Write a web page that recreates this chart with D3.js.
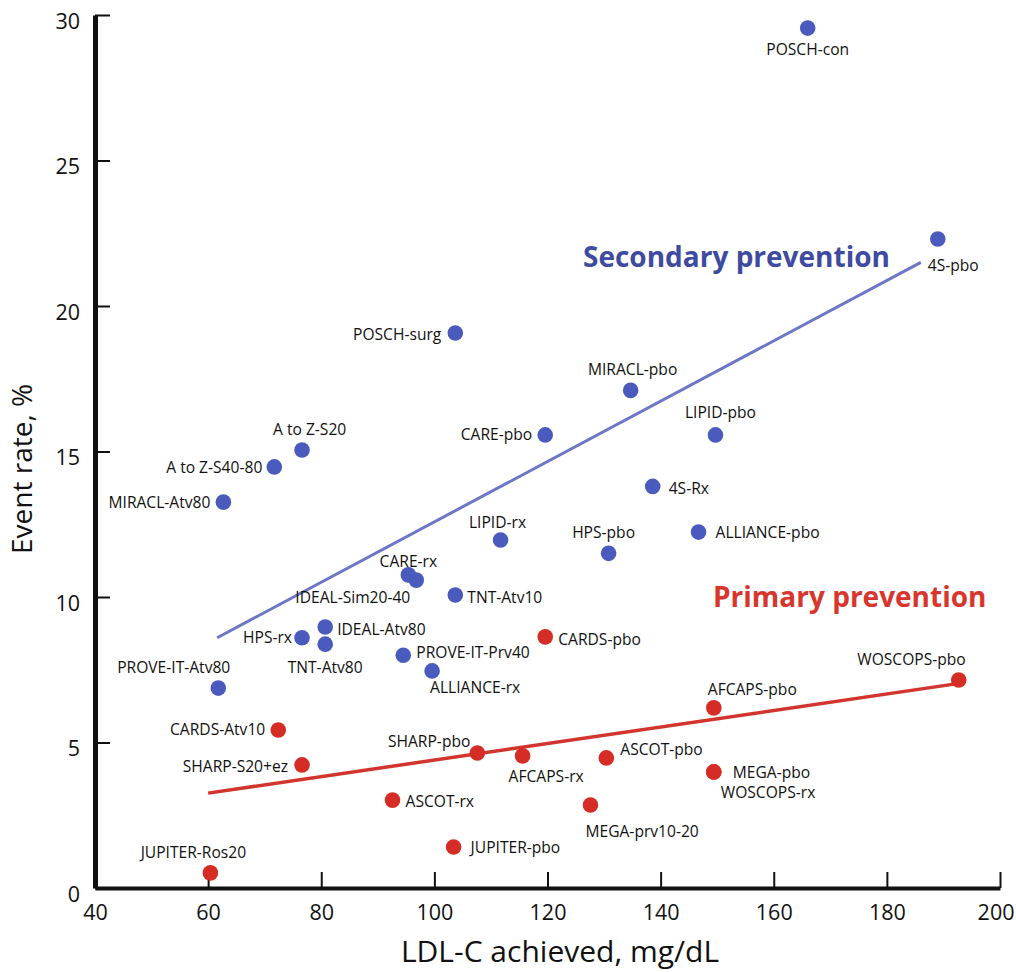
<!DOCTYPE html>
<html>
<head>
<meta charset="utf-8">
<script src="https://cdn.jsdelivr.net/npm/d3@7"></script>
<style>
  body { margin: 0; background: #fff; }
  svg { display: block; font-family: "Open Sans", "Noto Sans", sans-serif; }
</style>
</head>
<body>
<svg id="chart" width="1016" height="972"></svg>
<script>
// secondary prevention trials (blue)
const secondaryStudies = ["POSCH-con", "4S-pbo", "POSCH-surg", "MIRACL-pbo", "CARE-pbo", "LIPID-pbo", "4S-Rx",
    "ALLIANCE-pbo", "LIPID-rx", "HPS-pbo", "CARE-rx", "IDEAL-Sim20-40", "TNT-Atv10", "IDEAL-Atv80", "HPS-rx",
    "TNT-Atv80", "PROVE-IT-Prv40", "ALLIANCE-rx", "PROVE-IT-Atv80", "A to Z-S20", "A to Z-S40-80", "MIRACL-Atv80"];
const secondaryLdl = [166, 189, 103.7, 134.7, 119.6, 149.7, 138.6, 146.7, 111.7, 130.8, 95.4, 96.8, 103.7, 80.7, 76.6,
    80.7, 94.5, 99.6, 61.8, 76.6, 71.7, 62.7];
const secondaryRate = [29.55, 22.3, 19.07, 17.1, 15.57, 15.57, 13.8, 12.23, 11.96, 11.5, 10.76, 10.58, 10.07, 8.97, 8.6,
    8.38, 8.0, 7.46, 6.87, 15.05, 14.47, 13.26];

// primary prevention trials (red)
const primaryStudies = ["CARDS-pbo", "WOSCOPS-pbo", "AFCAPS-pbo", "CARDS-Atv10", "SHARP-pbo", "AFCAPS-rx", "ASCOT-pbo",
    "SHARP-S20+ez", "MEGA-pbo", "WOSCOPS-rx", "ASCOT-rx", "MEGA-prv10-20", "JUPITER-pbo", "JUPITER-Ros20"];
const primaryLdl = [119.6, 192.7, 149.4, 72.4, 107.6, 115.6, 130.4, 76.6, 149.4, 149.4, 92.6, 127.6, 103.4, 60.4];
const primaryRate = [8.63, 7.15, 6.19, 5.43, 4.64, 4.54, 4.47, 4.23, 3.99, 3.99, 3.02, 2.85, 1.41, 0.52];

// fitted trend lines (end points)
const secondaryTrendLdl = [61.6, 186];
const secondaryTrendRate = [8.6, 21.5];
const primaryTrendLdl = [60, 193.1];
const primaryTrendRate = [3.26, 7.04];

const xTicks = [40, 60, 80, 100, 120, 140, 160, 180, 200];
const yTicks = [0, 5, 10, 15, 20, 25, 30];

// label placement: [text-anchor, dx, dy] relative to the dot
const labelPlace = {
    "POSCH-con": ["middle", 0, 27], "4S-pbo": ["start", -10, 32], "POSCH-surg": ["end", -14, 7],
    "MIRACL-pbo": ["middle", 2, -15], "CARE-pbo": ["end", -13, 5], "LIPID-pbo": ["middle", 5, -17],
    "4S-Rx": ["start", 16, 8], "ALLIANCE-pbo": ["start", 17, 6], "LIPID-rx": ["middle", -3, -12],
    "HPS-pbo": ["middle", -5, -15], "CARE-rx": ["middle", 0, -8], "IDEAL-Sim20-40": ["end", -6, 23],
    "TNT-Atv10": ["start", 12, 8], "IDEAL-Atv80": ["start", 12, 8], "HPS-rx": ["end", -10, 5],
    "TNT-Atv80": ["middle", 0, 29], "PROVE-IT-Prv40": ["start", 13, 3], "ALLIANCE-rx": ["start", -2, 22],
    "PROVE-IT-Atv80": ["end", 12, -15], "A to Z-S20": ["start", -29, -15], "A to Z-S40-80": ["end", -12, 6],
    "MIRACL-Atv80": ["end", -13, 6],
    "CARDS-pbo": ["start", 13, 8], "WOSCOPS-pbo": ["end", 7, -15], "AFCAPS-pbo": ["start", -6, -13],
    "CARDS-Atv10": ["end", -13, 5], "SHARP-pbo": ["end", -7, -6], "AFCAPS-rx": ["start", -14, 26],
    "ASCOT-pbo": ["start", 14, -3], "SHARP-S20+ez": ["end", -14, 7], "MEGA-pbo": ["start", 19, 6],
    "WOSCOPS-rx": ["start", 7, 26], "ASCOT-rx": ["start", 13, 7], "MEGA-prv10-20": ["start", -5, 32],
    "JUPITER-pbo": ["start", 17, 6], "JUPITER-Ros20": ["middle", -17, -15]
};

const blue = "#4b5bbd", blueLine = "#6d77c6", blueText = "#3e4b9f";
const red = "#d62c26", redLine = "#d2352d", redText = "#d8362c";

const svg = d3.select("#chart");

const x = d3.scaleLinear().domain([40, 200]).range([95, 1000]);
const y = d3.scaleLinear().domain([0, 30]).range([888, 15]);

// axes
const yAxis = svg.append("g")
    .attr("class", "y-axis")
    .attr("transform", "translate(" + x(40) + ",0)")
    .call(d3.axisLeft(y).tickValues(yTicks).tickSizeInner(-15).tickSizeOuter(0).tickPadding(15));

yAxis.select(".domain").attr("stroke", "#111").attr("stroke-width", 5);
yAxis.selectAll(".tick line").attr("stroke", "#111").attr("stroke-width", 2);
yAxis.selectAll(".tick text")
    .attr("font-size", 21.5)
    .attr("font-family", "Open Sans")
    .attr("fill", "#111")
    .attr("dy", "0.62em");

const xAxis = svg.append("g")
    .attr("class", "x-axis")
    .attr("transform", "translate(0," + y(0) + ")")
    .call(d3.axisBottom(x).tickValues(xTicks).tickSizeInner(-16).tickSizeOuter(0).tickPadding(17));

xAxis.select(".domain").attr("stroke", "#111").attr("stroke-width", 4);
xAxis.selectAll(".tick line").attr("stroke", "#111").attr("stroke-width", 2);
xAxis.selectAll(".tick text")
    .attr("font-size", 21.5)
    .attr("font-family", "Open Sans")
    .attr("fill", "#111");
// the 40 tick sits on the y axis
xAxis.selectAll(".tick").filter(d => d == 40).select("line").remove();
// keep the last label inside the page
xAxis.selectAll(".tick").filter(d => d == 200).select("text")
    .attr("text-anchor", "end")
    .attr("x", 14);

svg.append("text")
    .attr("x", 560)
    .attr("y", 962)
    .attr("text-anchor", "middle")
    .attr("font-size", 30)
    .attr("fill", "#111")
    .text("LDL-C achieved, mg/dL");

svg.append("text")
    .attr("transform", "translate(32," + y(14.4) + ") rotate(-90)")
    .attr("text-anchor", "middle")
    .attr("font-size", 28)
    .attr("fill", "#111")
    .text("Event rate, %");

// trend lines
const line = d3.line().x(d => x(d[0])).y(d => y(d[1]));

svg.append("path")
    .datum(secondaryTrendLdl.map((v, i) => [v, secondaryTrendRate[i]]))
    .attr("d", line)
    .attr("fill", "none")
    .attr("stroke", blueLine)
    .attr("stroke-width", 3);

svg.append("path")
    .datum(primaryTrendLdl.map((v, i) => [v, primaryTrendRate[i]]))
    .attr("d", line)
    .attr("fill", "none")
    .attr("stroke", redLine)
    .attr("stroke-width", 3.5);

// points + labels
function drawGroup(cls, names, ldl, rate, color) {
    const pts = names.map((n, i) => ({ name: n, ldl: ldl[i], rate: rate[i] }));
    const g = svg.append("g").attr("class", cls);

    g.selectAll("circle")
        .data(pts)
        .enter().append("circle")
        .attr("cx", d => x(d.ldl))
        .attr("cy", d => y(d.rate))
        .attr("r", 7.8)
        .attr("fill", color);

    g.selectAll("text")
        .data(pts)
        .enter().append("text")
        .attr("x", d => x(d.ldl) + labelPlace[d.name][1])
        .attr("y", d => y(d.rate) + labelPlace[d.name][2])
        .attr("text-anchor", d => labelPlace[d.name][0])
        .attr("font-size", 15.6)
        .attr("fill", "#111")
        .text(d => d.name);
}

drawGroup("secondary", secondaryStudies, secondaryLdl, secondaryRate, blue);
drawGroup("primary", primaryStudies, primaryLdl, primaryRate, red);

// group annotations
svg.append("text")
    .attr("x", 583)
    .attr("y", 267)
    .attr("font-size", 28)
    .attr("font-weight", "bold")
    .attr("fill", blueText)
    .text("Secondary prevention");

svg.append("text")
    .attr("x", 713)
    .attr("y", 607)
    .attr("font-size", 28)
    .attr("font-weight", "bold")
    .attr("fill", redText)
    .text("Primary prevention");
</script>
</body>
</html>
